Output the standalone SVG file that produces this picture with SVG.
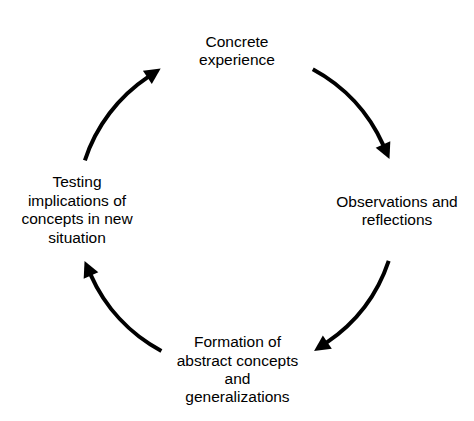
<svg xmlns="http://www.w3.org/2000/svg" width="474" height="421" viewBox="0 0 474 421">
  <defs>
    <marker id="head" markerUnits="userSpaceOnUse" markerWidth="18" markerHeight="18" viewBox="0 -9 17 18" refX="1" refY="0" orient="auto">
      <path d="M0,-8 L16,0 L0,8 Z" fill="#000"/>
    </marker>
    <style>
      .lbl { font-family: "Liberation Sans", Arial, sans-serif; font-size: 15.5px; fill: #000; text-anchor: middle; }
      .arc { fill: none; stroke: #000; stroke-width: 4; stroke-linecap: butt; marker-end: url(#head); }
    </style>
  </defs>
  <rect width="474" height="421" fill="#fff"/>
  <g id="connectors">
    <path class="arc" d="M312.8,69.2 A160,160 0 0 1 383.4,145.4"/>
    <path class="arc" d="M388.7,260.8 A160,160 0 0 1 326.5,342.6"/>
    <path class="arc" d="M161.4,351.0 A160,160 0 0 1 90.6,274.6"/>
    <path class="arc" d="M84.9,160.3 A160,160 0 0 1 148.2,76.9"/>
  </g>
  <g id="concrete-experience">
    <text class="lbl" x="237" y="47">Concrete</text>
    <text class="lbl" x="237" y="64.5">experience</text>
  </g>
  <g id="observations">
    <text class="lbl" x="397" y="207">Observations and</text>
    <text class="lbl" x="397" y="225">reflections</text>
  </g>
  <g id="formation">
    <text class="lbl" x="237.5" y="347">Formation of</text>
    <text class="lbl" x="237.5" y="365.5">abstract concepts</text>
    <text class="lbl" x="237.5" y="383.5">and</text>
    <text class="lbl" x="237.5" y="401.5">generalizations</text>
  </g>
  <g id="testing">
    <text class="lbl" x="77" y="187">Testing</text>
    <text class="lbl" x="77" y="205.5">implications of</text>
    <text class="lbl" x="77" y="224">concepts in new</text>
    <text class="lbl" x="77" y="242.5">situation</text>
  </g>
</svg>
